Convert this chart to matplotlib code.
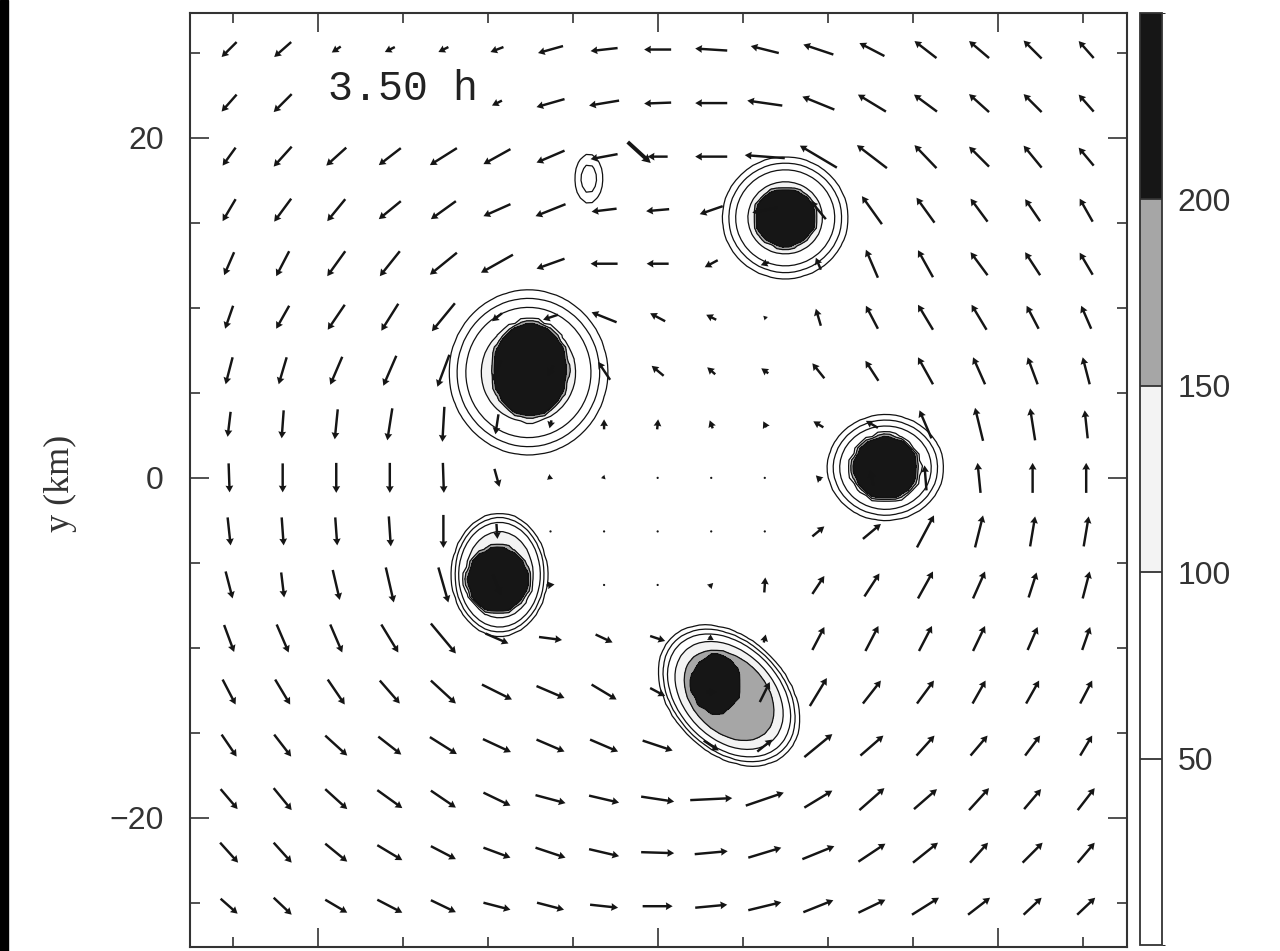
import numpy as np
import matplotlib
matplotlib.use("Agg")
import matplotlib.pyplot as plt
from matplotlib.colors import ListedColormap, BoundaryNorm
from matplotlib.cm import ScalarMappable
from matplotlib.patches import Rectangle
from matplotlib.ticker import MultipleLocator

# horizontal wind on the 17x17 sample grid, rows listed north -> south
grid_km = np.linspace(-25.2, 25.2, 17)
u = np.array([
    [-15, -17, -9, -10, -10, -13, -25, -27, -27, -32, -28, -30, -25, -22, -20, -18, -15],
    [-15, -18, -12, -10, -10, -10, -28, -30, -27, -32, -35, -32, -28, -23, -20, -18, -15],
    [-13, -18, -20, -22, -27, -27, -28, -27, -20, -32, -40, -37, -30, -22, -20, -18, -15],
    [-13, -17, -18, -22, -25, -27, -30, -25, -23, -23, -25, -15, -20, -18, -17, -15, -13],
    [-10, -13, -18, -20, -27, -32, -28, -27, -22, -13, -8, -5, -12, -15, -17, -15, -13],
    [-8, -13, -17, -17, -23, -10, -15, -25, -15, -10, -3, -5, -12, -15, -15, -12, -10],
    [-7, -8, -12, -13, -12, -8, -5, -12, -12, -8, -7, -12, -13, -15, -12, -10, -7],
    [-3, -2, -3, -5, -2, -3, -2, 0, 1, -3, -3, -10, -12, -12, -8, -5, -3],
    [1, 0, 0, 0, 1, 5, 5, 3, 1, 0, 0, -5, -3, -2, -3, 0, 0],
    [3, 2, 2, 2, 0, 1, 2, 1, 0, 1, 1, 12, 18, 17, 8, 5, 5],
    [7, 3, 7, 8, 10, 8, 8, 1, 0, 4, 1, 12, 15, 15, 12, 8, 7],
    [10, 12, 12, 17, 25, 23, 23, 17, 15, 5, 2, 12, 13, 13, 12, 10, 8],
    [13, 15, 17, 20, 25, 30, 28, 25, 15, 10, 10, 17, 18, 17, 13, 13, 12],
    [15, 17, 22, 23, 27, 28, 28, 28, 30, 15, 15, 28, 23, 18, 17, 15, 12],
    [17, 18, 22, 25, 25, 27, 30, 30, 33, 42, 38, 28, 25, 23, 20, 17, 17],
    [18, 18, 22, 25, 25, 27, 30, 30, 33, 33, 33, 32, 27, 25, 18, 20, 17],
    [17, 18, 22, 25, 25, 27, 27, 28, 30, 32, 33, 30, 27, 27, 22, 18, 18],
])
v = np.array([
    [-15, -15, -6, -5, -5, -5, -7, -3, 0, 2, 7, 10, 13, 17, 17, 18, 17],
    [-17, -18, -8, -5, -5, -5, -8, -5, -1, 0, 5, 13, 17, 17, 18, 18, 17],
    [-18, -20, -18, -17, -17, -15, -12, -5, 0, 0, 3, 22, 23, 23, 20, 22, 18],
    [-22, -23, -22, -18, -18, -12, -12, -3, -2, -8, -5, 18, 28, 25, 23, 22, 23],
    [-23, -25, -25, -25, -22, -18, -10, 0, 0, -7, -3, 12, 28, 27, 23, 23, 22],
    [-23, -23, -25, -27, -28, -8, -5, 10, 8, 5, 3, 17, 23, 25, 25, 23, 23],
    [-27, -27, -28, -30, -32, -20, -10, 18, 10, 7, 5, 15, 20, 27, 27, 27, 27],
    [-25, -28, -30, -32, -35, -20, -8, 10, 10, 8, 6, 6, 7, 28, 33, 32, 28],
    [-29, -29, -30, -30, -30, -18, -2, -3, 2, 2, 1, 5, 15, 25, 30, 30, 30],
    [-28, -28, -28, -30, -33, -15, 0, 0, 0, 1, 2, 10, 15, 32, 32, 30, 30],
    [-27, -25, -30, -35, -35, -20, 1, 1, 0, 4, 15, 18, 23, 27, 27, 25, 27],
    [-27, -28, -28, -28, -30, -10, -3, -8, -5, -3, 8, 23, 25, 25, 25, 23, 23],
    [-25, -25, -25, -23, -23, -15, -12, -15, -8, 0, 20, 28, 23, 23, 23, 23, 23],
    [-22, -22, -20, -18, -17, -13, -12, -12, -10, -10, 12, 23, 20, 20, 20, 20, 20],
    [-20, -22, -20, -18, -17, -13, -8, -7, -5, 2, 13, 17, 22, 20, 22, 20, 22],
    [-20, -20, -18, -15, -13, -10, -10, -7, -1, 3, 10, 13, 18, 20, 20, 20, 20],
    [-15, -17, -13, -13, -12, -7, -7, -3, 0, 3, 8, 12, 13, 17, 17, 17, 17],
])

# odd short vector north of the centre
stray_x = [-1.76]
stray_y = [19.76]
stray_u = [23]
stray_v = [-21]

# precipitation cells: skirt (centre, semi-axes, tilt, peak, exponent)
skirt_x = [7.5, -7.6, -9.3, 13.4, 4.2, -4.05]
skirt_y = [15.3, 6.2, -5.7, 0.6, -12.8, 17.6]
skirt_a = [2.89, 3.65, 2.38, 2.67, 4.0, 0.68]
skirt_b = [2.80, 3.80, 3.06, 2.43, 2.8, 1.22]
skirt_tilt = [0, 0, 0, 0, -45, 0]
skirt_peak = [140, 140, 140, 140, 185, 40]
skirt_pow = [4, 4, 6, 4, 6, 2]
# ... and their dense cores (centre, semi-axes of the 200 edge)
core_x = [7.5, -7.5, -9.4, 13.4, 3.4]
core_y = [15.3, 6.35, -6.0, 0.6, -12.1]
core_a = [1.8, 2.2, 1.8, 1.9, 1.4]
core_b = [1.7, 2.75, 1.9, 1.85, 1.7]
core_peak = 260

line_levels = [10, 25, 50, 100, 150, 200]
fill_levels = [100, 150, 200, 5000]
fill_colors = ["#f3f3f3", "#a6a6a6", "#161616"]
bar_bounds = [0, 50, 100, 150, 200, 250]
bar_colors = ["white", "white", "#f3f3f3", "#a6a6a6", "#161616"]
bar_ticks = [50, 100, 150, 200]

# scalar field on a model-like grid
gx = np.arange(-28, 28.01, 0.35)
GX, GY = np.meshgrid(gx, gx)
field = np.zeros_like(GX)
for cx, cy, a, b, t, pk, p in zip(skirt_x, skirt_y, skirt_a, skirt_b,
                                  skirt_tilt, skirt_peak, skirt_pow):
    th = np.deg2rad(t)
    dx, dy = GX - cx, GY - cy
    xr = dx * np.cos(th) + dy * np.sin(th)
    yr = -dx * np.sin(th) + dy * np.cos(th)
    r = np.sqrt((xr / a) ** 2 + (yr / b) ** 2)
    field = np.maximum(field, pk * np.exp(-r ** p))
for cx, cy, a, b in zip(core_x, core_y, core_a, core_b):
    r = np.sqrt(((GX - cx) / a) ** 2 + ((GY - cy) / b) ** 2)
    field = np.maximum(field, core_peak * np.exp(-np.log(core_peak / 200) * r ** 20))

fig = plt.figure(figsize=(12.8, 9.51), dpi=100)
fig.patches.append(Rectangle((0, 0), 8 / 1280, 1, transform=fig.transFigure,
                             color="black", zorder=10))
ax = fig.add_axes([190 / 1280, 4 / 951, 937 / 1280, 934 / 951])

ax.contourf(GX, GY, field, levels=fill_levels, colors=fill_colors, zorder=1)
ax.contour(GX, GY, field, levels=line_levels, colors="#111111", linewidths=0.9, zorder=2)

X, Y = np.meshgrid(grid_km, grid_km[::-1])
ax.quiver(X, Y, u, v, angles="xy", scale_units="xy", scale=17, pivot="mid",
          width=0.0026, headwidth=3.2, headlength=2.8, headaxislength=2.6,
          color="#151515", zorder=3)
ax.quiver(stray_x, stray_y, stray_u, stray_v, angles="xy", scale_units="xy", scale=17,
          pivot="tail", width=0.0042, headwidth=2.4, headlength=2.2, headaxislength=2.0,
          color="#151515", zorder=3)

ax.text(-19.4, 22.9, "3.50 h", family="Liberation Mono", fontsize=30, color="#222222",
        ha="left", va="center", zorder=4,
        bbox=dict(facecolor="white", edgecolor="none", pad=1))

ax.set_xlim(-27.5, 27.6)
ax.set_ylim(-27.6, 27.35)
ax.set_xticks([-20, 0, 20])
ax.set_yticks([-20, 0, 20])
ax.xaxis.set_minor_locator(MultipleLocator(5))
ax.yaxis.set_minor_locator(MultipleLocator(5))
ax.tick_params(which="both", direction="in", top=True, right=True, width=1.2, color="#333333")
ax.tick_params(which="major", length=14)
ax.tick_params(which="minor", length=7)
ax.tick_params(axis="x", labelbottom=False)
ax.tick_params(axis="y", labelsize=23, pad=19, labelcolor="#333333")
for lab in ax.get_yticklabels():
    lab.set_family("Liberation Sans")
for s in ax.spines.values():
    s.set_linewidth(1.5)
    s.set_color("#333333")

fig.text(60 / 1280, 1 - 483 / 951, "y (km)", rotation=90, ha="center", va="center",
         family="Liberation Serif", fontsize=26, color="#333333")

cax = fig.add_axes([1140 / 1280, 6 / 951, 22 / 1280, 932 / 951])
cmap = ListedColormap(bar_colors)
norm = BoundaryNorm(bar_bounds, cmap.N)
cb = fig.colorbar(ScalarMappable(norm=norm, cmap=cmap), cax=cax, ticks=bar_ticks, drawedges=True)
cb.outline.set_linewidth(1.3)
cb.outline.set_edgecolor("#333333")
cb.dividers.set_linewidth(1.3)
cb.dividers.set_color("#333333")
cax.tick_params(length=0, pad=11, labelsize=23, labelcolor="#333333")
for lab in cax.get_yticklabels():
    lab.set_family("Liberation Sans")

fig.savefig("out.png", dpi=100)
